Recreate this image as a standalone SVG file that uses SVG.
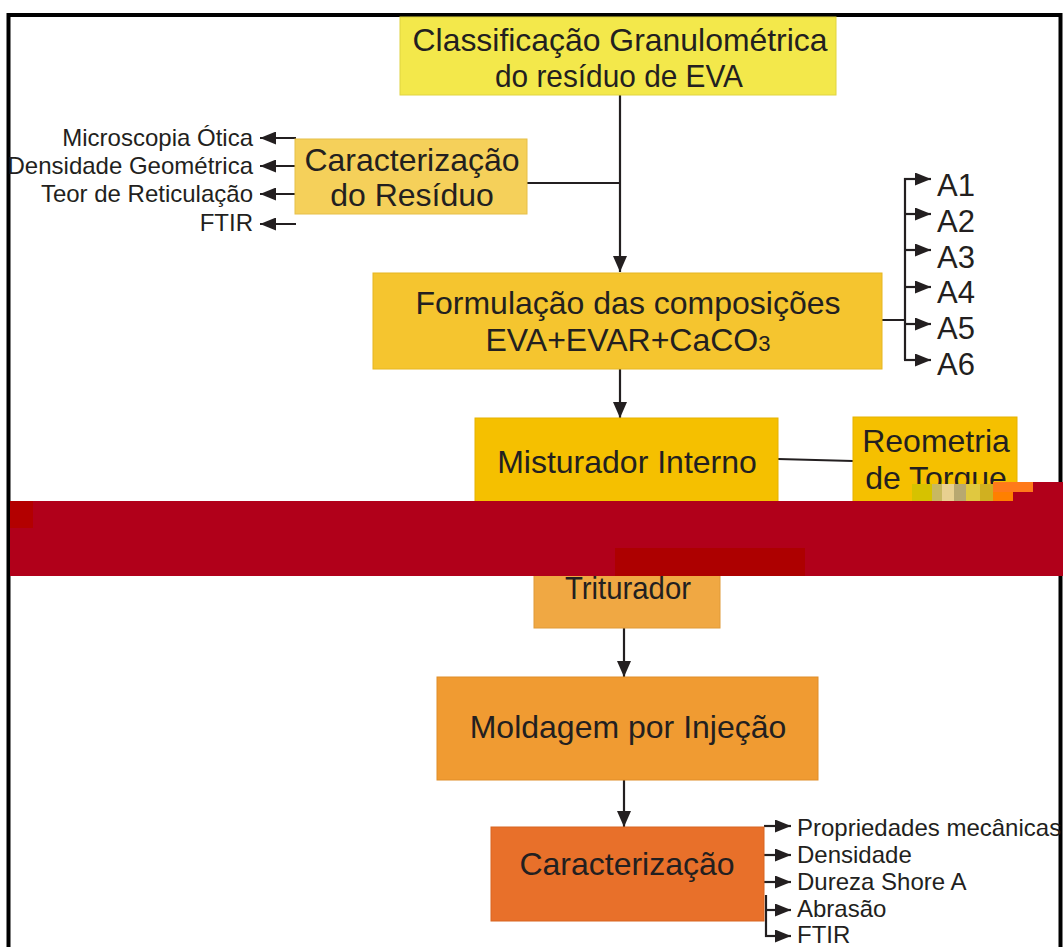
<svg xmlns="http://www.w3.org/2000/svg" width="1063" height="947" viewBox="0 0 1063 947">
<style>
.t{font-family:"Liberation Sans",Arial,sans-serif;fill:#231f20}
.big{font-size:32px;text-anchor:middle}
.sm{font-size:24px}
.ln{stroke:#231f20;stroke-width:2.2;fill:none}
.box{stroke-width:1}
</style>
<defs>
<marker id="ah" viewBox="0 0 16 14" refX="16" refY="7" markerWidth="16" markerHeight="14" orient="auto" markerUnits="userSpaceOnUse"><path d="M0,0 L16,7 L0,14 z" fill="#231f20"/></marker>
<marker id="as" viewBox="0 0 16 13" refX="16" refY="6.5" markerWidth="16" markerHeight="13" orient="auto" markerUnits="userSpaceOnUse"><path d="M0,0 L16,6.5 L0,13 z" fill="#231f20"/></marker>
</defs>
<rect width="1063" height="947" fill="#ffffff"/>
<path d="M8.5,947 V15 H1060.5 V947" fill="none" stroke="#000" stroke-width="4"/>

<g id="connectors">
<path class="ln" d="M620,95 V272" marker-end="url(#ah)"/>
<path class="ln" d="M527,183 H620"/>
<path class="ln" d="M620,369 V418" marker-end="url(#ah)"/>
<path class="ln" d="M778,459 L853,461"/>
<path class="ln" d="M624,628 V677" marker-end="url(#ah)"/>
<path class="ln" d="M624,780 V827" marker-end="url(#ah)"/>
<path class="ln" d="M296,138 H260" marker-end="url(#as)"/>
<path class="ln" d="M296,166 H260" marker-end="url(#as)"/>
<path class="ln" d="M296,194 H260" marker-end="url(#as)"/>
<path class="ln" d="M296,224 H260" marker-end="url(#as)"/>
<path class="ln" d="M882,320 H905 M905,178 V360"/>
<path class="ln" d="M904,179 H931" marker-end="url(#as)"/>
<path class="ln" d="M905,214 H931" marker-end="url(#as)"/>
<path class="ln" d="M905,250 H931" marker-end="url(#as)"/>
<path class="ln" d="M905,287 H931" marker-end="url(#as)"/>
<path class="ln" d="M905,324 H931" marker-end="url(#as)"/>
<path class="ln" d="M904,360 H931" marker-end="url(#as)"/>
<path class="ln" d="M764,826 H791" marker-end="url(#as)"/>
<path class="ln" d="M764,855 H791" marker-end="url(#as)"/>
<path class="ln" d="M764,882 H791" marker-end="url(#as)"/>
<path class="ln" d="M766,895 V937"/>
<path class="ln" d="M766,910 H791" marker-end="url(#as)"/>
<path class="ln" d="M765,936 H791" marker-end="url(#as)"/>
</g>

<g id="n-classificacao">
<rect class="box" x="400" y="17" width="436" height="78" fill="#f3e84b" stroke="#e0d440"/>
<text class="t big" x="620" y="51" font-size="35" textLength="415" lengthAdjust="spacingAndGlyphs">Classificação Granulométrica</text>
<text class="t big" x="619" y="87" font-size="35" textLength="248" lengthAdjust="spacingAndGlyphs">do resíduo de EVA</text>
</g>

<g id="n-caract-residuo">
<rect class="box" x="295" y="139" width="232" height="75" fill="#f5d05a" stroke="#e6bf48"/>
<text class="t big" x="412" y="171">Caracterização</text>
<text class="t big" x="412" y="206">do Resíduo</text>
</g>

<g id="n-ensaios-residuo">
<text class="t sm" text-anchor="end" x="253" y="146">Microscopia Ótica</text>
<text class="t sm" text-anchor="end" x="253" y="174">Densidade Geométrica</text>
<text class="t sm" text-anchor="end" x="253" y="202">Teor de Reticulação</text>
<text class="t sm" text-anchor="end" x="253" y="231">FTIR</text>
</g>

<g id="n-formulacao">
<rect class="box" x="373" y="273" width="509" height="96" fill="#f5c52f" stroke="#e6b622"/>
<text class="t big" x="628" y="314">Formulação das composições</text>
<text class="t big" x="628" y="351">EVA+EVAR+CaCO<tspan font-size="22">3</tspan></text>
</g>

<g id="n-amostras" class="t" font-size="31">
<text x="937" y="196">A1</text>
<text x="937" y="232">A2</text>
<text x="937" y="268">A3</text>
<text x="937" y="303">A4</text>
<text x="937" y="339">A5</text>
<text x="937" y="375">A6</text>
</g>

<g id="n-misturador">
<rect class="box" x="475" y="418" width="303" height="100" fill="#f5c000" stroke="#e6b200"/>
<text class="t big" x="627" y="473">Misturador Interno</text>
</g>

<g id="n-reometria">
<rect class="box" x="853" y="417" width="164" height="100" fill="#f5c000" stroke="#e6b200"/>
<text class="t big" x="936" y="452">Reometria</text>
<text class="t big" x="936" y="489">de Torque</text>
</g>

<g id="n-triturador">
<rect class="box" x="534" y="545" width="186" height="83" fill="#f0a843" stroke="#e09a38"/>
<text class="t big" x="628" y="599" font-size="32" textLength="126" lengthAdjust="spacingAndGlyphs">Triturador</text>
</g>

<g id="n-moldagem">
<rect class="box" x="437" y="677" width="381" height="103" fill="#f09b32" stroke="#e08d28"/>
<text class="t big" x="628" y="738">Moldagem por Injeção</text>
</g>

<g id="n-caracterizacao">
<rect class="box" x="491" y="827" width="273" height="94" fill="#e8702a" stroke="#d86420"/>
<text class="t big" x="627" y="875">Caracterização</text>
</g>

<g id="n-ensaios-final" class="t sm">
<text x="797" y="836">Propriedades mecânicas</text>
<text x="797" y="863">Densidade</text>
<text x="797" y="890">Dureza Shore A</text>
<text x="797" y="917">Abrasão</text>
<text x="797" y="943">FTIR</text>
</g>

<g id="band">
<rect x="10" y="501" width="1053" height="75" fill="#b1001a"/>
<rect x="10" y="501" width="23" height="27" fill="#b30000"/>
<rect x="615" y="548" width="190" height="28" fill="#ad0000"/>
<rect x="1013" y="482" width="50" height="19" fill="#b1001a"/>
<rect x="993" y="482" width="40" height="10" fill="#ff7a1a"/>
<rect x="993" y="492" width="20" height="9" fill="#ff8000"/>
<rect x="912" y="484" width="20" height="17" fill="#d6c200"/>
<rect x="932" y="484" width="10" height="17" fill="#c8b860"/>
<rect x="942" y="484" width="12" height="17" fill="#e8d090"/>
<rect x="954" y="484" width="12" height="17" fill="#b8a870"/>
<rect x="966" y="484" width="14" height="17" fill="#e0c840"/>
<rect x="980" y="484" width="13" height="17" fill="#d0b020"/>
</g>
</svg>
